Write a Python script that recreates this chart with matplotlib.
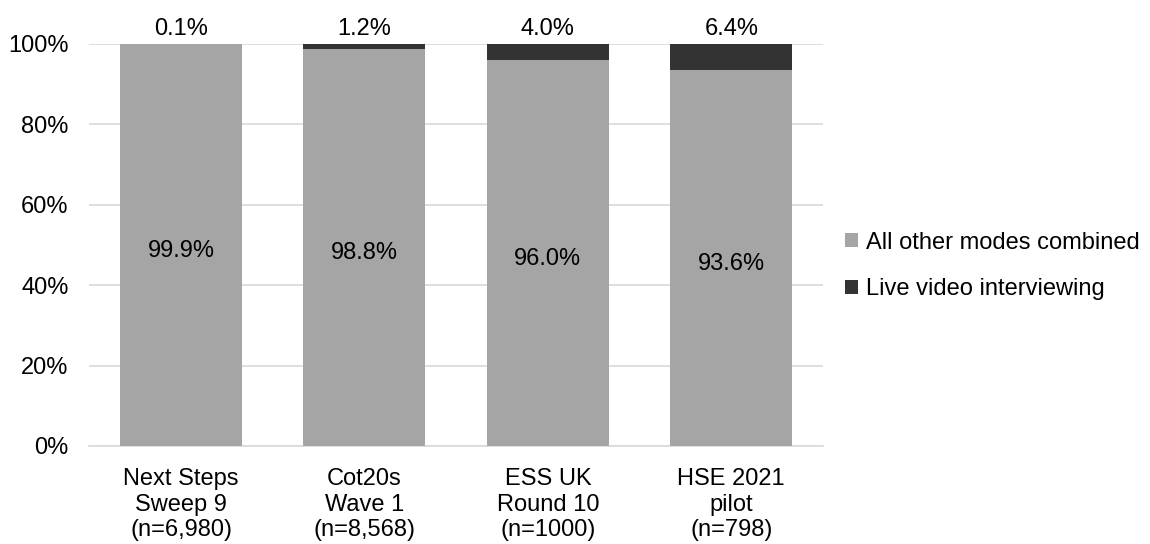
import matplotlib
matplotlib.use("Agg")
import matplotlib.pyplot as plt
import numpy as np

plt.rcParams['font.family'] = ['Liberation Sans', 'DejaVu Sans']

categories = ["Next Steps\nSweep 9\n(n=6,980)", "Cot20s\nWave 1\n(n=8,568)",
              "ESS UK\nRound 10\n(n=1000)", "HSE 2021\npilot\n(n=798)"]
other_modes = [99.9, 98.8, 96.0, 93.6]
live_video = [0.1, 1.2, 4.0, 6.4]
series_names = ["All other modes combined", "Live video interviewing"]
yticks = [0, 20, 40, 60, 80, 100]

grey = "#a5a5a5"
dark = "#333333"
fs = 17

fig = plt.figure(figsize=(11.5, 5.44), dpi=100)
ax = fig.add_axes([89.3 / 1150, 1 - 446 / 544, (823 - 89.3) / 1150, 402 / 544])

x = np.arange(len(categories))
w = 0.665
b1 = ax.bar(x, other_modes, w, color=grey, label=series_names[0], zorder=3)
b2 = ax.bar(x, live_video, w, bottom=other_modes, color=dark, label=series_names[1], zorder=3)

for xi, v in zip(x, other_modes):
    ax.text(xi, v / 2 - 0.8, f"{v:.1f}%", ha="center", va="center_baseline", fontsize=fs,
            color="#000000", zorder=4)
for xi, v, b in zip(x, live_video, other_modes):
    ax.text(xi, b + v + 1.0, f"{v:.1f}%", ha="center", va="bottom", fontsize=fs,
            color="#000000", zorder=4)

ax.set_xlim(-0.5, len(categories) - 0.5)
ax.set_ylim(0, 100)
ax.set_yticks(yticks)
ax.set_yticklabels([f"{t}%" for t in yticks], fontsize=fs)
ax.set_xticks(x)
ax.set_xticklabels(categories, fontsize=fs, linespacing=1.2)
ax.tick_params(axis="y", length=0, pad=15)
ax.tick_params(axis="x", length=0, pad=16)
ax.grid(axis="y", color="#d9d9d9", linewidth=1.2, zorder=0)
for s in ["top", "right", "left"]:
    ax.spines[s].set_visible(False)
ax.spines["bottom"].set_color("#d9d9d9")
ax.spines["bottom"].set_linewidth(1.2)
ax.set_axisbelow(True)

leg = fig.legend(handles=[b1, b2], labels=series_names, loc="center left",
                 bbox_to_anchor=(836 / 1150, 1 - 266 / 544), frameon=False,
                 fontsize=fs, handlelength=0.55, handleheight=0.55, handletextpad=0.3,
                 labelspacing=1.05, borderaxespad=0)

fig.savefig("out.png", dpi=100)
